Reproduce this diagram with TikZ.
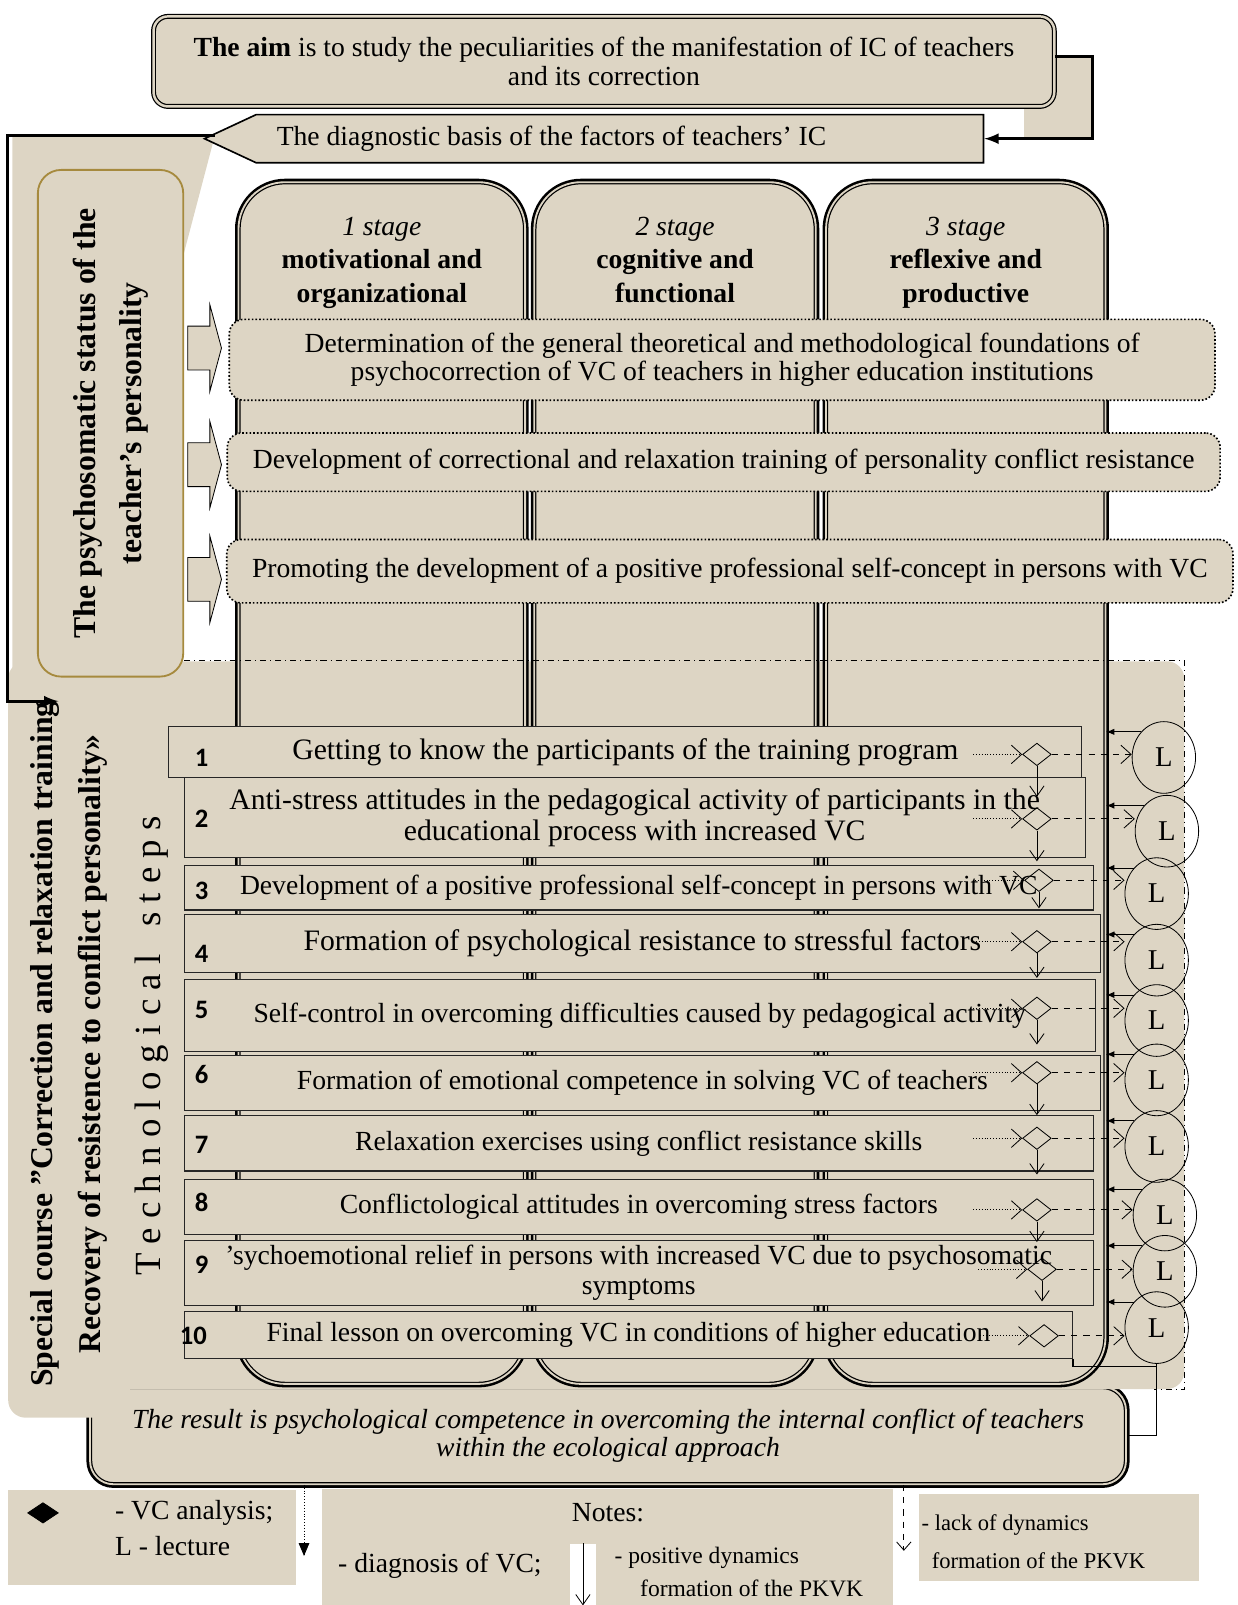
\documentclass[tikz,border=0pt]{standalone}
\usepackage{fontspec}
\setmainfont{Liberation Serif}
\newfontfamily\stepnumfont{Carlito}
\usetikzlibrary{positioning,arrows,arrows.meta}
\usetikzlibrary{calc}
\usetikzlibrary{shapes.geometric,shapes.symbols,shapes.arrows}

\definecolor{canvas}{RGB}{221,213,196}
\definecolor{ochre}{RGB}{166,138,62}

\begin{document}
\begin{tikzpicture}[x=0.5pt,y=-0.5pt]
  \newdimen\pix
  \pix=0.5pt

  \tikzstyle{aimBox} = [
    % The shape:
    rectangle, minimum width=880*\pix, minimum height=88*\pix, rounded corners=2.5mm,
    % The border:
    draw=black, line width=0.6pt, double=canvas, double distance=1.2pt,
    % The filling:
    fill=canvas,
    % Font:
    align=center, font=\fontsize{13.5}{14}\selectfont
  ];
  \tikzstyle{diagBox} = [
    % The shape:
    signal, signal to=west, signal pointer angle=50,
    minimum width=761*\pix, minimum height=47*\pix, inner sep=0pt,
    % The border:
    draw=black, thick,
    % The filling:
    fill=canvas
  ];
  \tikzstyle{diagText} = [
    % Just text!
    inner sep=0pt, font=\fontsize{13.5}{14}\selectfont
  ];
  \tikzstyle{psychoBox} = [
    % The shape:
    rectangle, minimum width=495*\pix, minimum height=142*\pix, rounded corners=4mm, rotate=90,
    % The border:
    draw=ochre, line width=0.9pt,
    % The filling:
    fill=canvas,
    % Font:
    align=center, font=\bfseries\fontsize{15.5}{22.5}\selectfont
  ];
  \tikzstyle{stageColumn} = [
    % The shape:
    rectangle, minimum width=275*\pix, minimum height=1174*\pix, rounded corners=8mm,
    % The border:
    preaction={draw=black, line width=3.4pt},
    draw=black, line width=0.6pt, double=canvas, double distance=0.9pt,
    % The filling:
    fill=canvas
  ];
  \tikzstyle{stageTitle} = [
    % Just text!
    align=center, inner sep=0pt, font=\fontsize{13.5}{16.5}\selectfont
  ];
  \tikzstyle{blockArrow} = [
    % The shape:
    single arrow, minimum height=33*\pix, inner sep=0pt,
    single arrow head extend=10.5pt, single arrow tip angle=150,
    % The border:
    draw=black, thin,
    % The filling:
    fill=canvas
  ];
  \tikzstyle{dottedBox} = [
    % The shape:
    rectangle, rounded corners=2.5mm,
    % The border:
    draw=black, densely dotted, line width=0.8pt,
    % The filling:
    fill=canvas,
    % Font:
    align=center, font=\fontsize{13.5}{14}\selectfont
  ];
  \tikzstyle{coursePanel} = [
    % The shape:
    rectangle, minimum width=1149*\pix, minimum height=711*\pix, rounded corners=3mm,
    % The filling:
    fill=canvas
  ];
  \tikzstyle{courseTitle} = [
    % The shape:
    rectangle, minimum width=730*\pix, minimum height=119*\pix, rounded corners=3mm, rotate=90,
    % The filling:
    fill=canvas,
    % Font:
    align=center, font=\bfseries\fontsize{15.5}{23.5}\selectfont
  ];
  \tikzstyle{techLabel} = [
    % Just text!
    rotate=90, inner sep=0pt, font=\fontsize{18}{18}\selectfont
  ];
  \tikzstyle{stepBox} = [
    % The shape:
    rectangle, inner sep=0pt,
    % The border:
    draw=black!85, line width=0.5pt,
    % The filling:
    fill=canvas,
    % Font:
    align=center, font=\fontsize{13.5}{15}\selectfont
  ];
  \tikzstyle{bigStep} = [
    font=\fontsize{14.5}{15}\selectfont
  ];
  \tikzstyle{stepNumber} = [
    % Just text!
    inner sep=0pt, font=\stepnumfont\bfseries\fontsize{13}{13}\selectfont
  ];
  \tikzstyle{vcDiamond} = [
    % The shape:
    diamond, minimum width=28*\pix, minimum height=22*\pix, inner sep=0pt,
    % The border:
    draw=black, thin
  ];
  \tikzstyle{lecture} = [
    % The shape:
    ellipse, minimum width=62*\pix, minimum height=70*\pix, inner sep=0pt,
    % The border:
    draw=black, thin,
    % Font:
    font=\fontsize{14}{14}\selectfont
  ];
  \tikzstyle{resultBox} = [
    % The shape:
    rectangle, minimum width=1012*\pix, minimum height=95*\pix, rounded corners=4mm,
    % The border:
    preaction={draw=black, line width=3.6pt},
    draw=black, line width=0.6pt, double=canvas, double distance=0.9pt,
    % The filling:
    fill=canvas,
    % Font:
    align=center, font=\itshape\fontsize{13.5}{14}\selectfont
  ];
  \tikzstyle{legendBox} = [
    rectangle, inner sep=0pt, fill=canvas
  ];
  \tikzstyle{legendText} = [
    % Just text!
    anchor=west, inner sep=0pt, font=\fontsize{13.5}{14}\selectfont
  ];
  \tikzstyle{noteSlot} = [
    rectangle, inner sep=0pt, minimum width=25*\pix, minimum height=60*\pix, fill=white
  ];
  \tikzstyle{calloutFlow} = [
    draw = black,
    line width=1.4pt,
    -latex
  ];
  \tikzstyle{bracketFlow} = [
    draw = black,
    line width=1.4pt,
    -latex
  ];
  \tikzstyle{panelEdge} = [
    draw = black,
    dash dot,
    thin
  ];
  \tikzstyle{diagFlow} = [
    draw = black,
    densely dotted,
    >={Straight Barb[length=5pt,width=9pt]},
    ->
  ];
  \tikzstyle{lectureFlow} = [
    draw = black,
    dashed,
    >={Straight Barb[length=5pt,width=9pt]},
    ->
  ];
  \tikzstyle{stepFlow} = [
    draw = black,
    >={Straight Barb[length=5pt,width=7pt]},
    ->
  ];
  \tikzstyle{feedbackFlow} = [
    draw = black,
    -latex
  ];
  \tikzstyle{joiningFlow} = [
    draw = black,
    thick
  ];
  \tikzstyle{diagnosisFlow} = [
    draw = black,
    densely dotted,
    -triangle 45
  ];
  \tikzstyle{lackFlow} = [
    draw = black,
    dashed,
    >={Straight Barb[length=4pt,width=7pt]},
    ->
  ];

  \useasboundingbox (0,0) rectangle (1209,1568);

  % backgrounds of the two brackets
  \fill [canvas] (1000,55) rectangle (1067,134);
  \fill [canvas] (12,132) -- (210,132) -- (179,250) -- (179,660) -- (12,660) -- cycle;

  \node [aimBox] (aim) at (590,60)
        {\textbf{The aim} is to study the peculiarities of the manifestation of IC of teachers\\
         and its correction};
  \node [diagBox] (diagnostic) at (605.5,135.5) {};
  \node [diagText, anchor=west] (diagnosticText) at (270,136)
        {The diagnostic basis of the factors of teachers' IC};

  \coordinate (calloutTurn) at (1067,55);
  \path [calloutFlow] (aim.east |- calloutTurn) -- (calloutTurn) |- (diagnostic.east);

  \node [resultBox] (result) at (594,1402.5)
        {The result is psychological competence in overcoming the internal conflict of teachers\\
         within the ecological approach};

  \node [coursePanel] (coursePanel) at (582.5,1001.5) {};
  \node [courseTitle] (course) at (67.5,1020)
        {Special course "Correction and relaxation training\\
         Recovery of resistence to conflict personality»};

  \node [psychoBox] (psycho) at (108,413.5)
        {The psychosomatic status of the\\teacher's personality};

  \coordinate (bracketTop) at (210,132);
  \coordinate (courseEntry) at (57,685);
  \path [bracketFlow] (bracketTop) -- (bracketTop -| coursePanel.west) |- (courseEntry);

  \node [stageColumn, minimum width=280*\pix] (stageOne) at (373,765) {};
  \node [stageColumn] (stageTwo) at (659.5,765) {};
  \node [stageColumn, minimum width=273*\pix] (stageThree) at (943.5,765) {};

  \node [stageTitle, below=17pt of stageOne.north] (stageOneTitle)
        {\textit{1 stage}\\\textbf{motivational and}\\\textbf{organizational}};
  \node [stageTitle, below=17pt of stageTwo.north] (stageTwoTitle)
        {\textit{2 stage}\\\textbf{cognitive and}\\\textbf{functional}};
  \node [stageTitle, below=17pt of stageThree.north] (stageThreeTitle)
        {\textit{3 stage}\\\textbf{reflexive and}\\\textbf{productive}};

  \node [blockArrow] (psychoArrowA) at (197,340) {\rule{0pt}{21pt}};
  \node [blockArrow] (psychoArrowB) at (197,454) {\rule{0pt}{21pt}};
  \node [blockArrow] (psychoArrowC) at (197,566) {\rule{0pt}{21pt}};

  \node [dottedBox, minimum width=963*\pix, minimum height=79*\pix] (foundations) at (705.5,351.5)
        {Determination of the general theoretical and methodological foundations of\\
         psychocorrection of VC of teachers in higher education institutions};
  \node [dottedBox, minimum width=970*\pix, minimum height=57*\pix] (training) at (707,451.5)
        {Development of correctional and relaxation training of personality conflict resistance};
  \node [dottedBox, minimum width=983*\pix, minimum height=62*\pix] (selfConcept) at (713,558)
        {Promoting the development of a positive professional self-concept in persons with VC};

  \node [techLabel] (techSteps) at (148,1022)
        {T e c h n o l o g i c a l \ \ s t e p s};

  %% The ten steps:
  \node [stepBox, bigStep, minimum width=892*\pix, minimum height=50*\pix] (step1) at (611,735)
        {Getting to know the participants of the training program};
  \node [stepBox, bigStep, minimum width=880*\pix, minimum height=78*\pix] (step2) at (620,799)
        {Anti-stress attitudes in the pedagogical activity of participants in the\\
         educational process with increased VC};
  \node [stepBox, minimum width=888*\pix, minimum height=43*\pix] (step3) at (624,867.5)
        {Development of a positive professional self-concept in persons with VC};
  \node [stepBox, bigStep, minimum width=895*\pix, minimum height=57*\pix] (step4) at (627.5,921.5)
        {Formation of psychological resistance to stressful factors};
  \node [stepBox, minimum width=890*\pix, minimum height=70*\pix] (step5) at (625,992)
        {Self-control in overcoming difficulties caused by pedagogical activity};
  \node [stepBox, minimum width=895*\pix, minimum height=54*\pix] (step6) at (627.5,1058)
        {Formation of emotional competence in solving VC of teachers};
  \node [stepBox, minimum width=888*\pix, minimum height=54*\pix] (step7) at (624,1117)
        {Relaxation exercises using conflict resistance skills};
  \node [stepBox, minimum width=888*\pix, minimum height=54*\pix] (step8) at (624,1179)
        {Conflictological attitudes in overcoming stress factors};
  \node [stepBox, minimum width=888*\pix, minimum height=63*\pix] (step9) at (624,1243.5)
        {’sychoemotional relief in persons with increased VC due to psychosomatic\\
         symptoms};
  \node [stepBox, minimum width=868*\pix, minimum height=46*\pix] (step10) at (614,1304)
        {Final lesson on overcoming VC in conditions of higher education};

  \node [stepNumber] (num1) at (197,740) {1};
  \node [stepNumber] (num2) at (197,800) {2};
  \node [stepNumber] (num3) at (197,870) {3};
  \node [stepNumber] (num4) at (197,932) {4};
  \node [stepNumber] (num5) at (197,987) {5};
  \node [stepNumber] (num6) at (197,1050) {6};
  \node [stepNumber] (num7) at (197,1118) {7};
  \node [stepNumber] (num8) at (197,1175) {8};
  \node [stepNumber] (num9) at (197,1236) {9};
  \node [stepNumber] (num10) at (189,1305) {10};

  %% VC analysis and lectures:
  \node [vcDiamond] (vc1) at (1013,737) {};
  \node [vcDiamond] (vc2) at (1013,800) {};
  \node [vcDiamond] (vc3) at (1015,860) {};
  \node [vcDiamond] (vc4) at (1013,920) {};
  \node [vcDiamond] (vc5) at (1013,985) {};
  \node [vcDiamond] (vc6) at (1013,1048) {};
  \node [vcDiamond] (vc7) at (1013,1112) {};
  \node [vcDiamond] (vc8) at (1013,1182) {};
  \node [vcDiamond] (vc9) at (1018,1240) {};
  \node [vcDiamond] (vc10) at (1020,1305) {};

  \node [lecture] (lecture1) at (1137,740) {L};
  \node [lecture] (lecture2) at (1140,812) {L};
  \node [lecture] (lecture3) at (1130,873) {L};
  \node [lecture] (lecture4) at (1130,938) {L};
  \node [lecture] (lecture5) at (1130,997) {L};
  \node [lecture] (lecture6) at (1130,1055) {L};
  \node [lecture] (lecture7) at (1130,1120) {L};
  \node [lecture] (lecture8) at (1138,1187) {L};
  \node [lecture] (lecture9) at (1138,1242) {L};
  \node [lecture] (lecture10) at (1130,1297) {L};

  \path [diagFlow] ([xshift=-24pt]vc1.west) -- (vc1.west);
  \path [diagFlow] ([xshift=-24pt]vc2.west) -- (vc2.west);
  \path [diagFlow] ([xshift=-24pt]vc3.west) -- (vc3.west);
  \path [diagFlow] ([xshift=-24pt]vc4.west) -- (vc4.west);
  \path [diagFlow] ([xshift=-24pt]vc5.west) -- (vc5.west);
  \path [diagFlow] ([xshift=-24pt]vc6.west) -- (vc6.west);
  \path [diagFlow] ([xshift=-24pt]vc7.west) -- (vc7.west);
  \path [diagFlow] ([xshift=-24pt]vc8.west) -- (vc8.west);
  \path [diagFlow] ([xshift=-24pt]vc9.west) -- (vc9.west);
  \path [diagFlow] ([xshift=-24pt]vc10.west) -- (vc10.west);

  \path [lectureFlow] (vc1.east) -- (vc1.east -| lecture1.west);
  \path [lectureFlow] (vc2.east) -- (vc2.east -| lecture2.west);
  \path [lectureFlow] (vc3.east) -- (vc3.east -| lecture3.west);
  \path [lectureFlow] (vc4.east) -- (vc4.east -| lecture4.west);
  \path [lectureFlow] (vc5.east) -- (vc5.east -| lecture5.west);
  \path [lectureFlow] (vc6.east) -- (vc6.east -| lecture6.west);
  \path [lectureFlow] (vc7.east) -- (vc7.east -| lecture7.west);
  \path [lectureFlow] (vc8.east) -- (vc8.east -| lecture8.west);
  \path [lectureFlow] (vc9.east) -- (vc9.east -| lecture9.west);
  \path [lectureFlow] (vc10.east) -- (vc10.east -| lecture10.west);

  \path [stepFlow] (vc1.south) -- ([yshift=-15pt]vc1.south);
  \path [stepFlow] (vc2.south) -- ([yshift=-15pt]vc2.south);
  \path [stepFlow] (vc3.south) -- ([yshift=-8pt]vc3.south);
  \path [stepFlow] (vc4.south) -- ([yshift=-12pt]vc4.south);
  \path [stepFlow] (vc5.south) -- ([yshift=-12pt]vc5.south);
  \path [stepFlow] (vc6.south) -- ([yshift=-15pt]vc6.south);
  \path [stepFlow] (vc7.south) -- ([yshift=-12pt]vc7.south);
  \path [stepFlow] (vc8.south) -- ([yshift=-10pt]vc8.south);
  \path [stepFlow] (vc9.south) -- ([yshift=-10pt]vc9.south);

  \path [feedbackFlow] (lecture1.north west) -- (lecture1.north west -| stageThree.east);
  \path [feedbackFlow] (lecture2.north west) -- (lecture2.north west -| stageThree.east);
  \path [feedbackFlow] (lecture3.north west) -- (lecture3.north west -| stageThree.east);
  \path [feedbackFlow] (lecture4.north west) -- (lecture4.north west -| stageThree.east);
  \path [feedbackFlow] (lecture5.north west) -- (lecture5.north west -| stageThree.east);
  \path [feedbackFlow] (lecture6.north west) -- (lecture6.north west -| stageThree.east);
  \path [feedbackFlow] (lecture7.north west) -- (lecture7.north west -| stageThree.east);
  \path [feedbackFlow] (lecture8.north west) -- (lecture8.north west -| stageThree.east);
  \path [feedbackFlow] (lecture9.north west) -- (lecture9.north west -| stageThree.east);
  \path [feedbackFlow] (lecture10.north west) -- (lecture10.north west -| stageThree.east);

  \path [panelEdge] (psycho.south |- coursePanel.north) -- (coursePanel.north east)
                    -- (coursePanel.south east) -- ([xshift=-15pt]coursePanel.south east);

  \coordinate (resultCorner) at (1130,1335);
  \path [joiningFlow] (step10.south east) |- (resultCorner);
  \path [joiningFlow] (lecture10.south) |- (result.east);

  %% Legend:
  \node [legendBox, minimum width=281*\pix, minimum height=92*\pix] (legendMarks) at (148.5,1502) {};
  \node [legendBox, minimum width=557*\pix, minimum height=113*\pix] (legendNotes) at (593.5,1511.5) {};
  \node [legendBox, minimum width=273*\pix, minimum height=85*\pix] (legendDynamics) at (1034.5,1502.5) {};

  \node [vcDiamond, fill=black, minimum width=30*\pix, minimum height=20*\pix] (vcMark) at (42,1478) {};
  \node [legendText] (vcAnalysis) at (112,1478) {- VC analysis;};
  \node [legendText] (lectureNote) at (112,1510) {L - lecture};
  \node [legendText, anchor=center] (notesTitle) at (594,1478) {Notes:};
  \node [legendText] (diagnosisNote) at (330,1530) {- diagnosis of VC;};
  \node [noteSlot] (positiveSlot) at (569.5,1538) {};
  \path [stepFlow] (positiveSlot.north) -- (positiveSlot.south);
  \node [legendText, font=\fontsize{11.5}{12}\selectfont] (positiveNote) at (600,1522) {- positive dynamics};
  \node [legendText, font=\fontsize{11.5}{12}\selectfont] (positiveNoteB) at (625,1552) {formation of the PKVK};
  \node [legendText, font=\fontsize{11}{12}\selectfont] (lackNote) at (900,1490) {- lack of dynamics};
  \node [legendText, font=\fontsize{11}{12}\selectfont] (lackNoteB) at (910,1525) {formation of the PKVK};

  \coordinate (diagnosisEnd) at (297,1520);
  \coordinate (lackEnd) at (883,1515);
  \path [diagnosisFlow] (result.south -| diagnosisEnd) -- (diagnosisEnd);
  \path [lackFlow] (result.south -| lackEnd) -- (lackEnd);
\end{tikzpicture}
\end{document}
